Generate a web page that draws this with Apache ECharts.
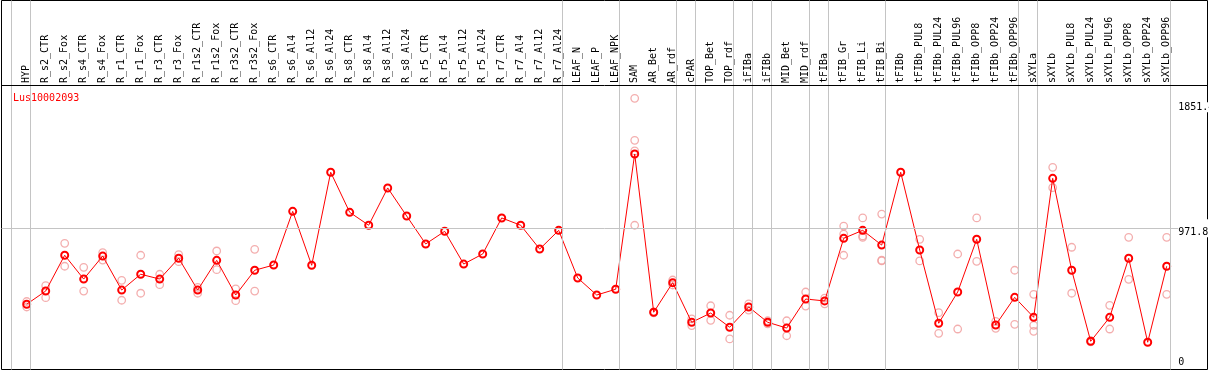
<!DOCTYPE html>
<html>
<head>
<meta charset="utf-8">
<script src="https://cdn.jsdelivr.net/npm/echarts@6/dist/echarts.min.js"></script>
<style>
  html, body { margin: 0; padding: 0; background: #fff; }
  #chart { width: 1209px; height: 370px; }
</style>
</head>
<body>
<div id="chart"></div>
<script>
// ---------------- data ----------------
const chartTitle = 'Lus10002093';
const categories = [
  'HYP','R_s2_CTR','R_s2_Fox','R_s4_CTR','R_s4_Fox','R_r1_CTR','R_r1_Fox','R_r3_CTR','R_r3_Fox',
  'R_r1s2_CTR','R_r1s2_Fox','R_r3s2_CTR','R_r3s2_Fox','R_s6_CTR','R_s6_Al4','R_s6_Al12','R_s6_Al24',
  'R_s8_CTR','R_s8_Al4','R_s8_Al12','R_s8_Al24','R_r5_CTR','R_r5_Al4','R_r5_Al12','R_r5_Al24',
  'R_r7_CTR','R_r7_Al4','R_r7_Al12','R_r7_Al24','LEAF_N','LEAF_P','LEAF_NPK','SAM','AR_Bet','AR_rdf',
  'cPAR','TOP_Bet','TOP_rdf','iFIBa','iFIBb','MID_Bet','MID_rdf','tFIBa','tFIB_Gr','tFIB_Li','tFIB_Bi',
  'tFIBb','tFIBb_PUL8','tFIBb_PUL24','tFIBb_PUL96','tFIBb_OPP8','tFIBb_OPP24','tFIBb_OPP96',
  'sXYLa','sXYLb','sXYLb_PUL8','sXYLb_PUL24','sXYLb_PUL96','sXYLb_OPP8','sXYLb_OPP24','sXYLb_OPP96'
];
const meanValues = [
  420, 516, 776, 603, 770, 523, 638, 603, 754,
  523, 739, 487, 667, 705, 1095, 703, 1379,
  1088, 994, 1265, 1061, 858, 950, 712, 785,
  1047, 994, 821, 957, 611, 487, 529, 1512, 362, 577,
  289, 356, 253, 400, 289, 247, 458, 444, 899, 957, 850,
  1379, 814, 282, 509, 892, 269, 470,
  325, 1335, 667, 151, 325, 754, 144, 696
];
const replicateValues = [
  [440, 400], [555, 468], [863, 696], [688, 516], [795, 741], [594, 449], [776, 500], [638, 562], [780, 729],
  [543, 500], [807, 671], [531, 446], [819, 516], [], [], [], [],
  [], [], [], [], [], [], [], [],
  [], [], [], [], [], [], [], [1916, 1611, 1534, 994], [365, 358], [596, 560],
  [313, 265], [409, 303], [340, 168], [422, 378], [300, 278], [300, 191], [509, 407], [465, 423],
  [988, 930, 776], [1047, 916, 906], [1075, 740, 735],
  [], [892, 735], [359, 209], [785, 240], [1047, 732], [296, 245], [667, 274],
  [492, 267, 223], [1415, 1267], [834, 500], [155, 147], [412, 240], [906, 601], [], [906, 492]
];
// index of the last category in each group (group separators)
const groupEnds = [-1, 0, 28, 31, 34, 35, 37, 38, 39, 41, 42, 45, 52, 53, 60];
const yTickValues = [0, 971.8, 1851.4];
const midLineValue = 971.8;

// ---------------- layout ----------------
const W = 1209;
const Y0 = 362.05;      // pixel row of value 0
const KY = 0.13763;     // pixels per unit
const STEP = 19;        // pixels per category
const FIRST_X = 26.7;   // pixel x of first category
const FRAME = { left: 1.5, top: 0.5, right: 1.5, bottom: 0.5 };
const PLOT_TOP = 85;
const PLOT_BOTTOM = 369;
const SEP_OFFSET = 0.2;
const FONT = 'DejaVu Sans Mono';

const frameW = W - FRAME.left - FRAME.right;
const frameH = 370 - FRAME.top - FRAME.bottom;
const fxMin = -(FIRST_X - FRAME.left) / STEP;
const fxMax = fxMin + frameW / STEP;
const fyMin = -((FRAME.top + frameH) - Y0) / KY;
const fyMax = (Y0 - FRAME.top) / KY;
const pyMin = -(PLOT_BOTTOM - Y0) / KY;
const pyMax = (Y0 - PLOT_TOP) / KY;
const headerLineValue = (Y0 - PLOT_TOP) / KY;

const repData = [];
replicateValues.forEach((arr, i) => arr.forEach(v => repData.push([i, v])));

const sepLines = groupEnds.map(g => ({ xAxis: g + SEP_OFFSET, lineStyle: { color: '#c4c4c4', width: 1, type: 'solid' } }));
sepLines.push({ yAxis: midLineValue, lineStyle: { color: '#c4c4c4', width: 1, type: 'solid' } });
sepLines.push({ yAxis: headerLineValue, lineStyle: { color: '#000', width: 1, type: 'solid' } });

const chart = echarts.init(document.getElementById('chart'), null, { renderer: 'canvas' });
chart.setOption({
  animation: false,
  backgroundColor: '#fff',
  title: {
    text: chartTitle, left: 8, top: 88,
    textStyle: { color: '#ff0000', fontSize: 10, fontFamily: FONT, fontWeight: 'normal' }
  },
  grid: [
    { left: FRAME.left, top: FRAME.top, width: frameW, height: frameH, show: true, outerBoundsMode: 'none',
      borderColor: '#000', borderWidth: 1, backgroundColor: '#fff', containLabel: false },
    { left: FIRST_X - STEP / 2, top: PLOT_TOP, width: STEP * categories.length, height: PLOT_BOTTOM - PLOT_TOP,
      outerBoundsMode: 'none', containLabel: false }
  ],
  xAxis: [
    { type: 'value', gridIndex: 0, min: fxMin, max: fxMax, show: false },
    { type: 'category', gridIndex: 1, data: categories, position: 'top', boundaryGap: true,
      axisLine: { show: false }, axisTick: { show: false }, splitLine: { show: false },
      axisLabel: { rotate: 90, interval: 0, margin: 2, fontSize: 10, fontFamily: FONT, color: '#000' } }
  ],
  yAxis: [
    { type: 'value', gridIndex: 0, min: fyMin, max: fyMax, show: false },
    { type: 'value', gridIndex: 1, min: pyMin, max: pyMax, position: 'right', z: 10,
      axisLine: { show: false }, axisTick: { show: false }, splitLine: { show: false },
      axisLabel: {
        customValues: yTickValues, margin: 2, fontSize: 10, fontFamily: FONT, color: '#000',
        hideOverlap: false,
        formatter: v => (v === midLineValue ? '{m|' + v + '}' : '{n|' + v + '}'),
        rich: {
          m: { fontSize: 10, fontFamily: FONT, color: '#000', padding: [8, 2, 0, 0], backgroundColor: '#fff' },
          n: { fontSize: 10, fontFamily: FONT, color: '#000', backgroundColor: '#fff' }
        }
      } }
  ],
  series: [
    { type: 'scatter', xAxisIndex: 0, yAxisIndex: 0, data: [], silent: true, z: 1,
      markLine: { silent: true, symbol: 'none', label: { show: false }, data: sepLines } },
    { type: 'scatter', xAxisIndex: 1, yAxisIndex: 1, data: repData, symbol: 'circle', symbolSize: 7.5, z: 3,
      itemStyle: { color: 'rgba(255,255,255,0)', borderColor: '#f09a9a', borderWidth: 1.3 } },
    { type: 'line', xAxisIndex: 1, yAxisIndex: 1, data: meanValues, symbol: 'circle', symbolSize: 7,
      showSymbol: true, z: 4, clip: false,
      lineStyle: { color: '#ff0000', width: 1 },
      itemStyle: { color: 'rgba(255,255,255,0)', borderColor: '#ff0000', borderWidth: 2 } }
  ]
});
</script>
</body>
</html>
